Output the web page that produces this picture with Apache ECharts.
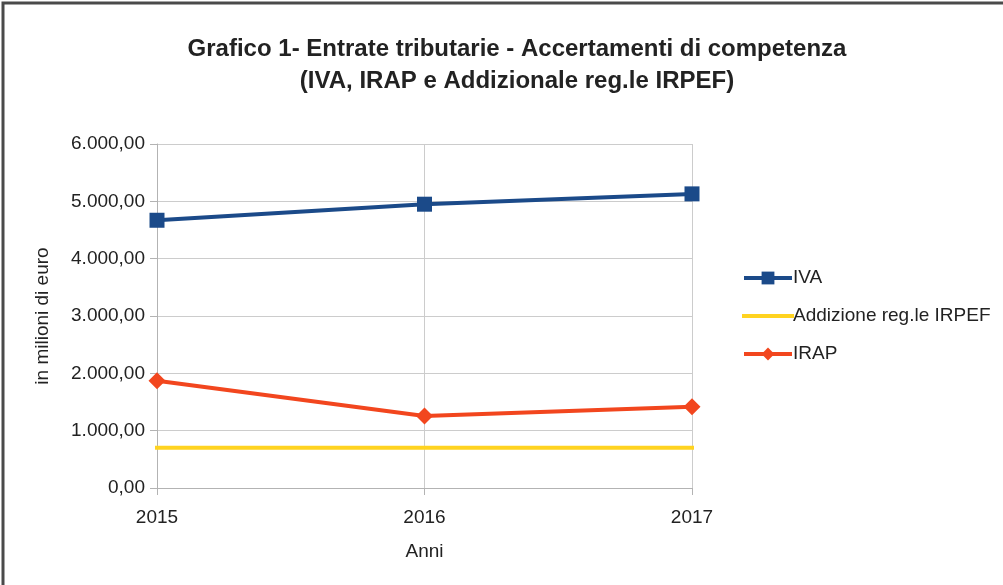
<!DOCTYPE html>
<html>
<head>
<meta charset="utf-8">
<script src="https://cdn.jsdelivr.net/npm/echarts@6/dist/echarts.min.js"></script>
<style>
html,body{margin:0;padding:0;background:#fff;}
#chart{width:1003px;height:585px;}
</style>
</head>
<body>
<div id="chart"></div>
<script>
// dati
var anni = ['2015', '2016', '2017'];
var iva = [4670, 4950, 5130];
var addizionale = [700, 700, 700];
var irap = [1870, 1255, 1415];
var yTicks = [0, 1000, 2000, 3000, 4000, 5000, 6000];

var FONT = '"Liberation Sans", Arial, sans-serif';
var TXT = '#222222';

function formatIt(v) {
    // 6000 -> 6.000,00
    var s = Math.round(v).toString().replace(/\B(?=(\d{3})+(?!\d))/g, '.');
    return s + ',00';
}

var myChart = echarts.init(document.getElementById('chart'));
var option = {
    backgroundColor: '#ffffff',
    animation: false,
    textStyle: { fontFamily: FONT },
    // cornice in alto e a sinistra
    graphic: [{
        type: 'polyline',
        shape: { points: [[3, 600], [3, 3], [1010, 3]] },
        style: { fill: 'none', stroke: '#4a4a4a', lineWidth: 3 },
        silent: true
    }],
    title: {
        text: 'Grafico 1- Entrate tributarie - Accertamenti di competenza\n(IVA, IRAP e Addizionale reg.le IRPEF)',
        left: 512,
        textAlign: 'center',
        top: 28,
        textStyle: {
            fontFamily: FONT,
            fontSize: 24,
            fontWeight: 'bold',
            color: TXT,
            lineHeight: 32
        }
    },
    legend: {
        orient: 'vertical',
        left: 742,
        top: 268,
        padding: 0,
        itemWidth: 48,
        itemHeight: 16,
        itemGap: 18,
        textStyle: { fontFamily: FONT, fontSize: 19, color: TXT, lineHeight: 20, padding: [0, 0, 0, -4] },
        data: [
            { name: 'IVA', lineStyle: { width: 4 } },
            { name: 'Addizione reg.le IRPEF', lineStyle: { width: 4 }, itemStyle: { opacity: 0 } },
            { name: 'IRAP', lineStyle: { width: 4 } }
        ]
    },
    grid: {
        left: 157,
        right: 311,
        top: 144,
        bottom: 97
    },
    xAxis: {
        type: 'category',
        boundaryGap: false,
        data: anni,
        name: 'Anni',
        nameLocation: 'middle',
        nameGap: 54,
        nameTextStyle: { fontFamily: FONT, fontSize: 19, color: TXT },
        axisLine: { lineStyle: { color: '#b3b3b3', width: 1 } },
        axisTick: { show: true, length: 7, lineStyle: { color: '#b3b3b3' } },
        axisLabel: { fontFamily: FONT, fontSize: 19, color: TXT, margin: 20 },
        splitLine: { show: true, lineStyle: { color: '#cccccc', width: 1 } }
    },
    yAxis: {
        type: 'value',
        min: yTicks[0],
        max: yTicks[yTicks.length - 1],
        interval: 1000,
        name: 'in milioni di euro',
        nameLocation: 'middle',
        nameGap: 105,
        nameTextStyle: { fontFamily: FONT, fontSize: 19, color: TXT },
        axisLine: { show: true, lineStyle: { color: '#b3b3b3', width: 1 } },
        axisTick: { show: true, length: 7, lineStyle: { color: '#b3b3b3' } },
        axisLabel: {
            fontFamily: FONT, fontSize: 19, color: TXT, margin: 12,
            formatter: function(v) { return formatIt(v); }
        },
        splitLine: { show: true, lineStyle: { color: '#cccccc', width: 1 } }
    },
    series: [{
        name: 'IVA',
        type: 'line',
        data: iva,
        symbol: 'rect',
        symbolSize: 15,
        lineStyle: { color: '#1b4a89', width: 4 },
        itemStyle: { color: '#1b4a89' },
        z: 4
    }, {
        name: 'Addizione reg.le IRPEF',
        type: 'line',
        data: addizionale,
        symbol: 'none',
        lineStyle: { color: '#ffd320', width: 4, cap: 'square' },
        itemStyle: { color: '#ffd320' },
        z: 2
    }, {
        name: 'IRAP',
        type: 'line',
        data: irap,
        symbol: 'diamond',
        symbolSize: 17,
        lineStyle: { color: '#f2461e', width: 4 },
        itemStyle: { color: '#f2461e' },
        z: 3
    }]
};
myChart.setOption(option);
</script>
</body>
</html>
